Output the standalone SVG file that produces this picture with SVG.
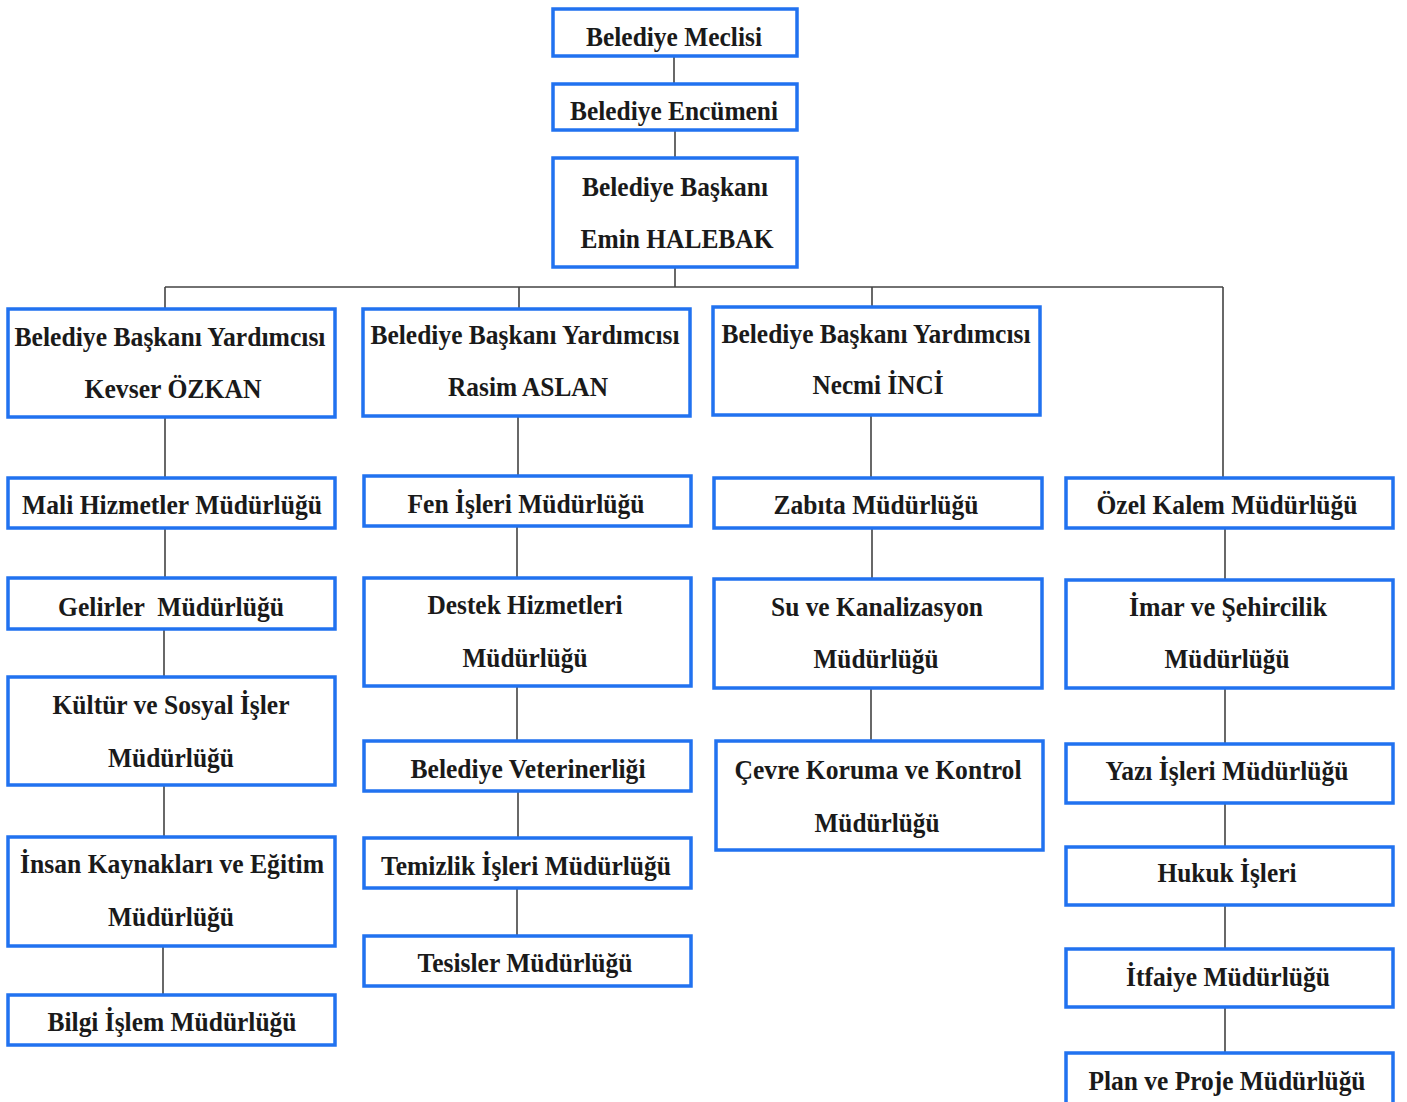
<svg xmlns="http://www.w3.org/2000/svg" width="1407" height="1102" viewBox="0 0 1407 1102">
<style>
.b{fill:#fff;stroke:#2172f0;stroke-width:3.5}
.t{font-family:"Liberation Serif","Times New Roman",serif;font-weight:bold;font-size:27px;fill:#1a1a1a;text-anchor:middle}
.c{stroke:#444;stroke-width:1.6;fill:none}
</style>
<rect width="1407" height="1102" fill="#fff"/>
<g id="connectors" class="c">
<path d="M674 56V84M675 130V158M675 267V287M165 287H1223M165 287V309M519 287V309M872 287V307M1223 287V478"/>
<path d="M165 417V478M165 528V578M164 629V677M164 785V837M163 946V995"/>
<path d="M518 416V476M517 526V578M517 686V741M518 791V838M517 888V936"/>
<path d="M871 415V478M872 528V579M871 688V741"/>
<path d="M1225 528V580M1225 688V744M1225 803V847M1225 905V949M1225 1007V1053"/>
</g>
<g id="meclis"><rect class="b" x="553" y="9" width="244" height="47"/><text class="t" x="674" y="46" textLength="176" lengthAdjust="spacingAndGlyphs">Belediye Meclisi</text></g>
<g id="encumen"><rect class="b" x="553" y="84" width="244" height="46"/><text class="t" x="674" y="120" textLength="208" lengthAdjust="spacingAndGlyphs">Belediye Encümeni</text></g>
<g id="baskan"><rect class="b" x="553" y="158" width="244" height="109"/><text class="t" x="675" y="196" textLength="186" lengthAdjust="spacingAndGlyphs">Belediye Başkanı</text><text class="t" x="677" y="248" textLength="193" lengthAdjust="spacingAndGlyphs">Emin HALEBAK</text></g>

<g id="by1"><rect class="b" x="8" y="309" width="327" height="108"/><text class="t" x="170" y="346" textLength="311" lengthAdjust="spacingAndGlyphs">Belediye Başkanı Yardımcısı</text><text class="t" x="173" y="398" textLength="177" lengthAdjust="spacingAndGlyphs">Kevser ÖZKAN</text></g>
<g id="mali"><rect class="b" x="8" y="478" width="327" height="50"/><text class="t" x="172" y="514" textLength="300" lengthAdjust="spacingAndGlyphs">Mali Hizmetler Müdürlüğü</text></g>
<g id="gelirler"><rect class="b" x="8" y="578" width="327" height="51"/><text class="t" x="171" y="616" textLength="226" lengthAdjust="spacingAndGlyphs" xml:space="preserve">Gelirler  Müdürlüğü</text></g>
<g id="kultur"><rect class="b" x="8" y="677" width="327" height="108"/><text class="t" x="171" y="714" textLength="237" lengthAdjust="spacingAndGlyphs">Kültür ve Sosyal İşler</text><text class="t" x="171" y="767" textLength="126" lengthAdjust="spacingAndGlyphs">Müdürlüğü</text></g>
<g id="insan"><rect class="b" x="8" y="837" width="327" height="109"/><text class="t" x="172" y="873" textLength="304" lengthAdjust="spacingAndGlyphs">İnsan Kaynakları ve Eğitim</text><text class="t" x="171" y="926" textLength="126" lengthAdjust="spacingAndGlyphs">Müdürlüğü</text></g>
<g id="bilgi"><rect class="b" x="8" y="995" width="327" height="50"/><text class="t" x="172" y="1031" textLength="249" lengthAdjust="spacingAndGlyphs">Bilgi İşlem Müdürlüğü</text></g>

<g id="by2"><rect class="b" x="363" y="309" width="327" height="107"/><text class="t" x="525" y="344" textLength="309" lengthAdjust="spacingAndGlyphs">Belediye Başkanı Yardımcısı</text><text class="t" x="528" y="396" textLength="160" lengthAdjust="spacingAndGlyphs">Rasim ASLAN</text></g>
<g id="fen"><rect class="b" x="364" y="476" width="327" height="50"/><text class="t" x="526" y="513" textLength="237" lengthAdjust="spacingAndGlyphs">Fen İşleri Müdürlüğü</text></g>
<g id="destek"><rect class="b" x="364" y="578" width="327" height="108"/><text class="t" x="525" y="614" textLength="195" lengthAdjust="spacingAndGlyphs">Destek Hizmetleri</text><text class="t" x="525" y="667" textLength="125" lengthAdjust="spacingAndGlyphs">Müdürlüğü</text></g>
<g id="veteriner"><rect class="b" x="364" y="741" width="327" height="50"/><text class="t" x="528" y="778" textLength="235" lengthAdjust="spacingAndGlyphs">Belediye Veterinerliği</text></g>
<g id="temizlik"><rect class="b" x="364" y="838" width="327" height="50"/><text class="t" x="526" y="875" textLength="290" lengthAdjust="spacingAndGlyphs">Temizlik İşleri Müdürlüğü</text></g>
<g id="tesisler"><rect class="b" x="364" y="936" width="327" height="50"/><text class="t" x="525" y="972" textLength="215" lengthAdjust="spacingAndGlyphs">Tesisler Müdürlüğü</text></g>

<g id="by3"><rect class="b" x="713" y="307" width="327" height="108"/><text class="t" x="876" y="343" textLength="309" lengthAdjust="spacingAndGlyphs">Belediye Başkanı Yardımcısı</text><text class="t" x="878" y="394" textLength="131" lengthAdjust="spacingAndGlyphs">Necmi İNCİ</text></g>
<g id="zabita"><rect class="b" x="714" y="478" width="328" height="50"/><text class="t" x="876" y="514" textLength="205" lengthAdjust="spacingAndGlyphs">Zabıta Müdürlüğü</text></g>
<g id="su"><rect class="b" x="714" y="579" width="328" height="109"/><text class="t" x="877" y="616" textLength="212" lengthAdjust="spacingAndGlyphs">Su ve Kanalizasyon</text><text class="t" x="876" y="668" textLength="125" lengthAdjust="spacingAndGlyphs">Müdürlüğü</text></g>
<g id="cevre"><rect class="b" x="716" y="741" width="327" height="109"/><text class="t" x="878" y="779" textLength="287" lengthAdjust="spacingAndGlyphs">Çevre Koruma ve Kontrol</text><text class="t" x="877" y="832" textLength="125" lengthAdjust="spacingAndGlyphs">Müdürlüğü</text></g>

<g id="ozel"><rect class="b" x="1066" y="478" width="327" height="50"/><text class="t" x="1227" y="514" textLength="261" lengthAdjust="spacingAndGlyphs">Özel Kalem Müdürlüğü</text></g>
<g id="imar"><rect class="b" x="1066" y="580" width="327" height="108"/><text class="t" x="1228" y="616" textLength="198" lengthAdjust="spacingAndGlyphs">İmar ve Şehircilik</text><text class="t" x="1227" y="668" textLength="125" lengthAdjust="spacingAndGlyphs">Müdürlüğü</text></g>
<g id="yazi"><rect class="b" x="1066" y="744" width="327" height="59"/><text class="t" x="1227" y="780" textLength="243" lengthAdjust="spacingAndGlyphs">Yazı İşleri Müdürlüğü</text></g>
<g id="hukuk"><rect class="b" x="1066" y="847" width="327" height="58"/><text class="t" x="1227" y="882" textLength="139" lengthAdjust="spacingAndGlyphs">Hukuk İşleri</text></g>
<g id="itfaiye"><rect class="b" x="1066" y="949" width="327" height="58"/><text class="t" x="1228" y="986" textLength="204" lengthAdjust="spacingAndGlyphs">İtfaiye Müdürlüğü</text></g>
<g id="plan"><rect class="b" x="1066" y="1053" width="327" height="60"/><text class="t" x="1227" y="1090" textLength="277" lengthAdjust="spacingAndGlyphs">Plan ve Proje Müdürlüğü</text></g>
</svg>
